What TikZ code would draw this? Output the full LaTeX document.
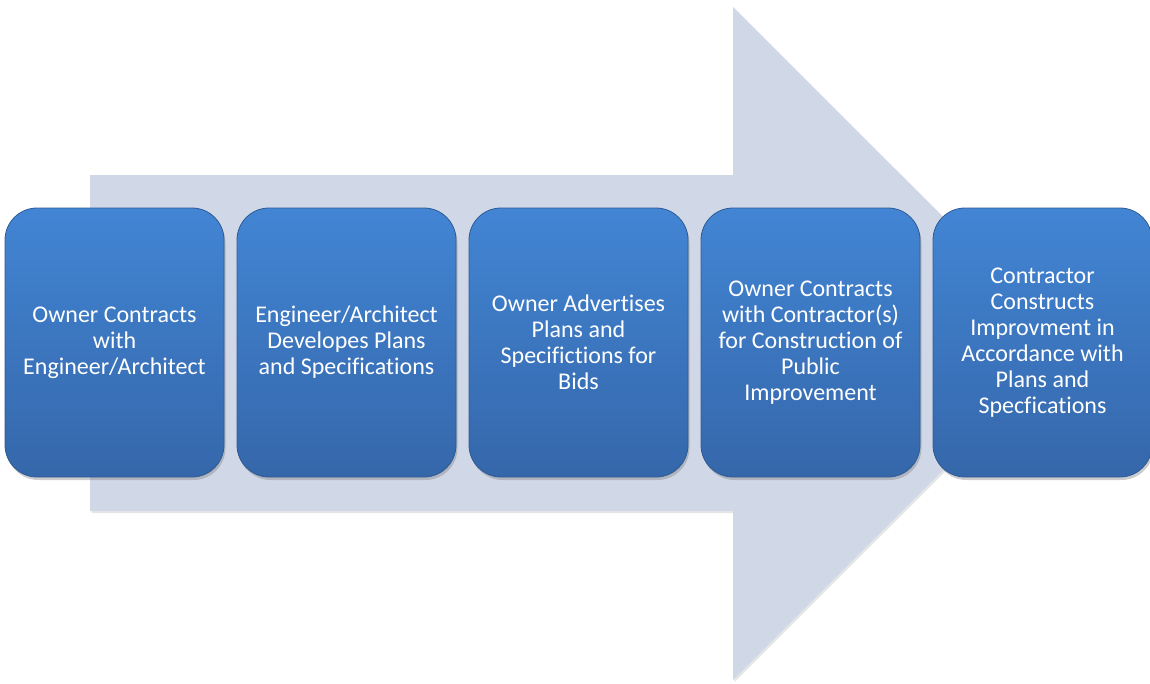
\documentclass[tikz,border=0pt]{standalone}
\usepackage{fontspec}
\setmainfont{Carlito}[Ligatures=NoCommon]
\usepackage{tikz}
\usetikzlibrary{positioning}
\usetikzlibrary{shadows}
\usepackage{xcolor}
\definecolor{arrowfill}{HTML}{D0D8E8}
\definecolor{boxtop}{HTML}{4285D4}
\definecolor{boxbot}{HTML}{3567AA}
\definecolor{boxline}{HTML}{2F5B94}
\tikzset{
  stepbox/.style={draw=boxline, line width=0.8pt, rounded corners=32pt,
    top color=boxtop, bottom color=boxbot,
    minimum width=219pt, minimum height=269pt, inner sep=0pt, outer sep=0pt,
    align=center, text=white, font=\fontsize{24}{26}\selectfont,
    drop shadow={opacity=0.4, shadow xshift=1.5pt, shadow yshift=-3pt}}
}
\begin{document}
\begin{tikzpicture}[x=1pt, y=-1pt, node distance=13pt]
\useasboundingbox (0,0) rectangle (1150,683);
% big arrow behind the steps
\fill[arrowfill, drop shadow={opacity=0.2, shadow xshift=1.5pt, shadow yshift=-2pt}]
  (90,175) -- (733,175) -- (733,7) -- (1070,343.5) -- (733,680) -- (733,511) -- (90,511) -- cycle;
% the five steps
\node[stepbox] (contract) at (114.5,342.5) {Owner Contracts\\with\\Engineer/Architect};
\node[stepbox, right=of contract] (design) {Engineer/Architect\\Developes Plans\\and Specifications};
\node[stepbox, right=of design] (bids) {Owner Advertises\\Plans and\\Specifictions for\\Bids};
%\node[stepbox, right=of bids] (award) {};
\node[stepbox, right=of bids] (award) {Owner Contracts\\with Contractor(s)\\for Construction of\\Public\\Improvement};
\node[stepbox, right=of award] (build) {Contractor\\Constructs\\Improvment in\\Accordance with\\Plans and\\Specfications};
\end{tikzpicture}
\end{document}
